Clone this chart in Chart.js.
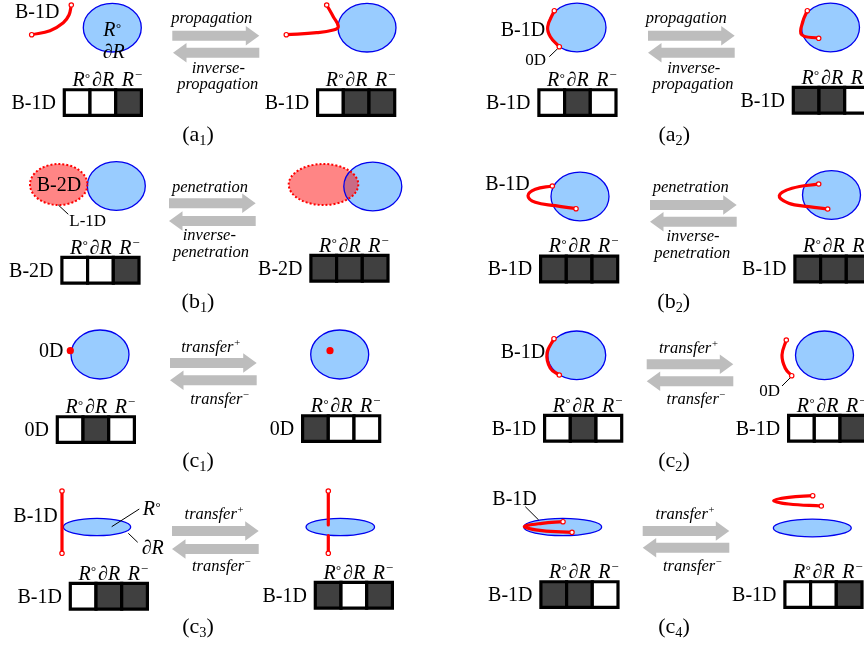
<!DOCTYPE html>
<html>
<head>
<meta charset="utf-8">
<style>
  html, body { margin: 0; padding: 0; background: #fff; }
  canvas { display: block; }
</style>
<script src="https://cdn.jsdelivr.net/npm/chart.js@4/dist/chart.umd.min.js"></script>
</head>
<body>
<canvas id="grafico" width="864" height="645"></canvas>
<script>
// regions: cx, cy, rx, ry
const regions = [
  [112.3, 27.7, 29, 24.3], [367, 27.7, 29, 24.3], [577, 27.5, 29, 24.3], [830.5, 27.5, 29, 24.3],
  [116.3, 186, 29, 24.3], [372.8, 186.5, 29, 24.3], [580, 196.5, 29, 24.3], [831.5, 195, 29, 24.3],
  [100, 354.5, 29, 24.5], [339.7, 354.5, 29, 24.5], [576.7, 355.3, 29, 24.3], [824.5, 355.3, 29, 24.3],
  [97, 527, 33.7, 8.7], [340.3, 527, 34.3, 8.7], [562.7, 527, 39, 8.7], [812.3, 528, 39, 8.8]
];
const blobs = [[58.7, 184.5, 28.7, 20.5], [323.5, 184.5, 34.8, 20.5]];

// red curves, point by point
const curves = [
  [[31.7, 34.7], [50, 30.7], [63.3, 22.7], [69, 15], [71.3, 5]],
  [[286.3, 34.7], [316.7, 32.7], [333.3, 30], [338.3, 26.7], [333.3, 16.7], [326.7, 5]],
  [[554.3, 10.7], [547.7, 26.7], [550.3, 36.7], [559.3, 46.7]],
  [[807.3, 10.7], [803, 21], [801.5, 34.5], [818.7, 38.3]],
  [[552.3, 186], [535.3, 189.3], [528, 195.7], [535.3, 202.3], [555.3, 205.7], [576, 208.7]],
  [[818.7, 184], [792, 188.3], [779.3, 195.7], [788.7, 203.3], [808.7, 206.7], [827.7, 209]],
  [[554, 338.7], [547, 353.3], [550.3, 368.3], [559.3, 375]],
  [[786.3, 340], [782, 355], [785.3, 368.3], [791.7, 375.7]],
  [[62, 491], [62, 553.3]],
  [[563, 521.7], [542, 523.3], [524.3, 526.7], [542, 530.7], [572, 532.3]],
  [[812.7, 495.7], [788.7, 497.3], [773.7, 500.7], [788.7, 504], [821.3, 506]]
];
const stubs = [[[328.3, 491], [328.3, 525]], [[328.3, 535.7], [328.3, 553.3]]];
const stubEnds = [[328.3, 491], [328.3, 553.3]];
const dots = [[70.3, 350.7], [330, 350.7]];

// thin leader lines
const leaders = [
  [[558, 48.3], [549.3, 56.7]],
  [[58.3, 205], [68.3, 214.3]],
  [[791.3, 376.7], [782, 386]],
  [[111.7, 526.7], [139.3, 509]],
  [[128.3, 533.3], [137.7, 542.3]],
  [[525.3, 506.7], [538.7, 520]]
];

// arrows: tail, tip, y
const arrows = [
  [172.3, 259.3, 35.7], [259.3, 173, 52.7], [648, 734.7, 35.7], [734.7, 648, 52.7],
  [169, 255.7, 203.3], [255.7, 169, 221], [650, 736.7, 205], [736.7, 650, 221.7],
  [170, 256.7, 363], [256.7, 170, 380.3], [646.7, 733.3, 364.3], [733.3, 646.7, 381.3],
  [172, 258.7, 531], [258.7, 172, 549], [642.7, 729.3, 531], [729.3, 642.7, 547.7]
];

// tables: left, top, name, states of the three columns (1 = dark)
// ^ marks a raised part of a label, _ a lowered one
const tableColumns = ['R^°', '∂R', 'R^−'];
const tables = [
  [62.7, 88.3, 'B-1D', [0, 0, 1]], [316, 88.3, 'B-1D', [0, 1, 1]],
  [537.3, 88.3, 'B-1D', [0, 1, 0]], [791.7, 86, 'B-1D', [1, 1, 0]],
  [60.3, 256, 'B-2D', [0, 0, 1]], [309.3, 254, 'B-2D', [1, 1, 1]],
  [539, 254.7, 'B-1D', [1, 1, 1]], [793.3, 254.7, 'B-1D', [1, 1, 1]],
  [55.7, 415.3, '0D', [0, 1, 0]], [301, 414.3, '0D', [1, 0, 0]],
  [543, 414, 'B-1D', [0, 1, 0]], [787, 414, 'B-1D', [0, 0, 1]],
  [68.7, 582, 'B-1D', [0, 1, 1]], [313.7, 581, 'B-1D', [1, 0, 1]],
  [539.3, 580.3, 'B-1D', [1, 1, 0]], [783.3, 580.3, 'B-1D', [0, 0, 1]]
];

const captions = [
  ['(a_1_)', 198, 140.7], ['(a_2_)', 674.3, 140.7], ['(b_1_)', 198, 307.7], ['(b_2_)', 673.7, 307.7],
  ['(c_1_)', 198, 466.7], ['(c_2_)', 674, 466.7], ['(c_3_)', 198, 633.3], ['(c_4_)', 674, 633.3]
];
const arrowLabels = [
  ['propagation', 211.7, 23.3], ['inverse-', 218.3, 72.7], ['propagation', 217.7, 89.3],
  ['propagation', 686.3, 23.3], ['inverse-', 693.7, 72.7], ['propagation', 693, 89.3],
  ['penetration', 210, 191.7], ['inverse-', 209.3, 240], ['penetration', 211, 256.7],
  ['penetration', 690.7, 192.3], ['inverse-', 693, 241], ['penetration', 692.3, 258.3],
  ['transfer^+', 211, 351.7], ['transfer^−', 220, 404],
  ['transfer^+', 688.7, 352.7], ['transfer^−', 696.3, 404],
  ['transfer^+', 214.3, 519.3], ['transfer^−', 221.7, 571],
  ['transfer^+', 685.3, 519], ['transfer^−', 692.7, 570.7]
];
// left aligned: text, x, y, size, italic
const notes = [
  ['B-1D', 15, 18.3, 20, 0], ['R^°', 103.3, 36, 20, 1], ['∂R', 102.7, 58.3, 20, 1],
  ['B-1D', 500.7, 36, 20, 0], ['0D', 525.3, 65, 17, 0],
  ['B-2D', 36.7, 191, 20, 0], ['L-1D', 69.3, 225.7, 17, 0],
  ['B-1D', 485.3, 190, 20, 0], ['0D', 39, 356.7, 20, 0],
  ['B-1D', 500.7, 358.3, 20, 0], ['0D', 759.3, 396, 17, 0],
  ['B-1D', 13.3, 521.7, 20, 0], ['R^°', 142.7, 515, 20, 1], ['∂R', 141.7, 554.3, 20, 1],
  ['B-1D', 492.3, 505, 20, 0]
];

const toXY = p => ({ x: p[0], y: p[1] });
const serif = '"Liberation Serif", "Times New Roman", serif';
const cellPitch = 25.7;

const cellPoints = [];
const cellColors = [];
tables.forEach(t => {
  t[3].forEach((dark, i) => {
    cellPoints.push({ x: t[0] + 14.45 + i * cellPitch, y: t[1] + 14.3 });
    cellColors.push(dark ? '#404040' : '#ffffff');
  });
});

const endPoints = curves.flatMap(c => [c[0], c[c.length - 1]]).concat(stubEnds).map(toXY);

const datasets = [
  { data: endPoints, showLine: false, pointRadius: 2.2, pointBackgroundColor: '#fff',
    pointBorderColor: '#ff0000', pointBorderWidth: 1.2 },
  { data: dots.map(toXY), showLine: false, pointRadius: 3.6, pointBackgroundColor: '#ff0000',
    pointBorderColor: '#ff0000', pointBorderWidth: 0 },
  { data: cellPoints, showLine: false, pointStyle: 'rect', pointRadius: cellPitch * Math.SQRT1_2,
    pointBackgroundColor: cellColors, pointBorderColor: '#000', pointBorderWidth: 3.2 }
];
curves.concat(stubs).forEach(c => {
  datasets.push({ data: c.map(toXY), showLine: true, borderColor: '#ff0000', borderWidth: 3.2,
    tension: 0.4, pointRadius: 0, borderCapStyle: 'round', borderJoinStyle: 'round' });
});
leaders.forEach(l => {
  datasets.push({ data: l.map(toXY), showLine: true, borderColor: '#000', borderWidth: 1, pointRadius: 0 });
});

function ellipsePath(ctx, x, y, e) {
  ctx.beginPath();
  ctx.ellipse(x.getPixelForValue(e[0]), y.getPixelForValue(e[1]), e[2], e[3], 0, 0, Math.PI * 2);
}

// splits 'R^°' or '(a_1_)' into runs of normal, raised and lowered text
function textRuns(s, size) {
  const small = size * 0.65;
  return s.split(/(\^.|_._)/).filter(Boolean).map(part => {
    if (part[0] === '^') {
      const raise = part[1] === '°' ? size * 0.22 : size * 0.36;
      return { text: part[1], size: small, dy: -raise };
    }
    if (part[0] === '_') return { text: part[1], size: small, dy: size * 0.19 };
    return { text: part, size: size, dy: 0 };
  });
}

function drawLabel(ctx, s, px, py, size, style, centered) {
  const runs = textRuns(s, size);
  let total = 0;
  runs.forEach(r => {
    ctx.font = style + r.size + 'px ' + serif;
    r.width = ctx.measureText(r.text).width;
    total += r.width;
  });
  let cur = centered ? px - total / 2 : px;
  runs.forEach(r => {
    ctx.font = style + r.size + 'px ' + serif;
    ctx.fillText(r.text, cur, py + r.dy);
    cur += r.width;
  });
}

const shapesPlugin = {
  id: 'shapes',
  beforeDatasetsDraw(chart) {
    const ctx = chart.ctx, x = chart.scales.x, y = chart.scales.y;
    ctx.save();
    regions.forEach(e => {
      ellipsePath(ctx, x, y, e);
      ctx.fillStyle = '#99ccff';
      ctx.fill();
    });
    blobs.forEach(e => {
      ellipsePath(ctx, x, y, e);
      ctx.fillStyle = 'rgba(255,0,0,0.48)';
      ctx.fill();
    });
    regions.forEach(e => {
      ellipsePath(ctx, x, y, e);
      ctx.strokeStyle = '#0000ee';
      ctx.lineWidth = 1.3;
      ctx.stroke();
    });
    blobs.forEach(e => {
      ellipsePath(ctx, x, y, e);
      ctx.strokeStyle = '#ff0000';
      ctx.lineWidth = 2;
      ctx.setLineDash([2, 2]);
      ctx.stroke();
      ctx.setLineDash([]);
    });
    ctx.fillStyle = '#bdbdbd';
    arrows.forEach(a => {
      const tail = x.getPixelForValue(a[0]), tip = x.getPixelForValue(a[1]), py = y.getPixelForValue(a[2]);
      const dir = tip > tail ? 1 : -1, neck = tip - dir * 13.5;
      ctx.beginPath();
      ctx.moveTo(tail, py - 5);
      ctx.lineTo(neck, py - 5);
      ctx.lineTo(neck, py - 9.7);
      ctx.lineTo(tip, py);
      ctx.lineTo(neck, py + 9.7);
      ctx.lineTo(neck, py + 5);
      ctx.lineTo(tail, py + 5);
      ctx.closePath();
      ctx.fill();
    });
    ctx.restore();
  },
  afterDatasetsDraw(chart) {
    const ctx = chart.ctx, x = chart.scales.x, y = chart.scales.y;
    const put = (s, px, py, size, style, centered) =>
      drawLabel(ctx, s, x.getPixelForValue(px), y.getPixelForValue(py), size, style, centered);
    ctx.save();
    ctx.fillStyle = '#000';
    ctx.textBaseline = 'alphabetic';
    ctx.textAlign = 'left';

    notes.forEach(n => put(n[0], n[1], n[2], n[3], n[4] ? 'italic ' : '', false));
    tables.forEach(t => {
      tableColumns.forEach((c, i) => put(c, t[0] + [9.7, 29.3, 59][i], t[1] - 2.3, 20, 'italic ', false));
      ctx.font = '20px ' + serif;
      ctx.textAlign = 'right';
      ctx.fillText(t[2], x.getPixelForValue(t[0] - 6.8), y.getPixelForValue(t[1] + 20.5));
      ctx.textAlign = 'left';
    });
    arrowLabels.forEach(l => put(l[0], l[1], l[2], 16.5, 'italic ', true));
    captions.forEach(l => put(l[0], l[1], l[2], 22, '', true));
    ctx.restore();
  }
};

new Chart(document.getElementById('grafico').getContext('2d'), {
  type: 'scatter',
  data: { datasets: datasets },
  options: {
    responsive: false,
    animation: false,
    layout: { padding: 0, autoPadding: false },
    clip: false,
    scales: {
      x: { type: 'linear', min: 0, max: 864, display: false },
      y: { type: 'linear', min: 0, max: 645, reverse: true, display: false }
    },
    plugins: { legend: { display: false }, tooltip: { enabled: false } }
  },
  plugins: [shapesPlugin]
});
</script>
</body>
</html>
